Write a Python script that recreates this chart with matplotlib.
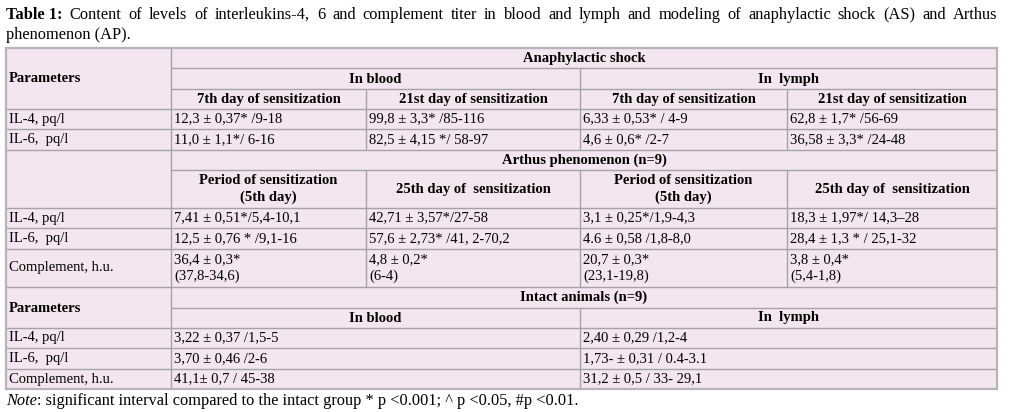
import matplotlib.pyplot as plt

# Table content
title_line1 = "Content of levels of interleukins-4, 6 and complement titer in blood and lymph and modeling of anaphylactic shock (AS) and Arthus"
title_line2 = "phenomenon (AP)."
note_text = ": significant interval compared to the intact group * p <0.001; ^ p <0.05, #p <0.01."

as_title = "Anaphylactic shock"
ap_title = "Arthus phenomenon (n=9)"
intact_title = "Intact animals (n=9)"
media = ["In blood", "In  lymph"]
as_periods = ["7th day of sensitization", "21st day of sensitization",
              "7th day of sensitization", "21st day of sensitization"]
ap_periods = ["Period of sensitization\n(5th day)", "25th day of  sensitization",
              "Period of sensitization\n(5th day)", "25th day of  sensitization"]

as_params = ["IL-4, pq/l", "IL-6,  pq/l"]
as_values = [
    ["12,3 ± 0,37* /9-18", "99,8 ± 3,3* /85-116", "6,33 ± 0,53* / 4-9", "62,8 ± 1,7* /56-69"],
    ["11,0 ± 1,1*/ 6-16", "82,5 ± 4,15 */ 58-97", "4,6 ± 0,6* /2-7", "36,58 ± 3,3* /24-48"],
]
ap_params = ["IL-4, pq/l", "IL-6,  pq/l", "Complement, h.u."]
ap_values = [
    ["7,41 ± 0,51*/5,4-10,1", "42,71 ± 3,57*/27-58", "3,1 ± 0,25*/1,9-4,3", "18,3 ± 1,97*/ 14,3–28"],
    ["12,5 ± 0,76 * /9,1-16", "57,6 ± 2,73* /41, 2-70,2", "4.6 ± 0,58 /1,8-8,0", "28,4 ± 1,3 * / 25,1-32"],
    ["36,4 ± 0,3*\n(37,8-34,6)", "4,8 ± 0,2*\n(6-4)", "20,7 ± 0,3*\n(23,1-19,8)", "3,8 ± 0,4*\n(5,4-1,8)"],
]
intact_params = ["IL-4, pq/l", "IL-6,  pq/l", "Complement, h.u."]
intact_values = [
    ["3,22 ± 0,37 /1,5-5", "2,40 ± 0,29 /1,2-4"],
    ["3,70 ± 0,46 /2-6", "1,73- ± 0,31 / 0.4-3.1"],
    ["41,1± 0,7 / 45-38", "31,2 ± 0,5 / 33- 29,1"],
]

# Layout in pixels
W, H = 1015, 412
L, R = 6, 997
cols = [L, 171, 366, 580, 787, R]
FONT = "Liberation Serif"
FS = 10.5
TFS = 11.8
BG = "#f3e6ee"
LC = "#a3a3a8"

fig = plt.figure(figsize=(W / 100, H / 100), dpi=100)
ax = fig.add_axes([0, 0, 1, 1])
ax.set_xlim(0, W)
ax.set_ylim(H, 0)
ax.axis("off")

ax.add_patch(plt.Rectangle((L, 48), R - L, 389 - 48, facecolor=BG, edgecolor="none", zorder=0))


def hline(y, x0=L, x1=R):
    ax.plot([x0, x1], [y, y], color=LC, lw=1, solid_capstyle="butt", zorder=1)


def vline(x, y0, y1):
    ax.plot([x, x], [y0, y1], color=LC, lw=1, solid_capstyle="butt", zorder=1)


def txt(x, y, s, bold=False, ha="left", **kw):
    ax.text(x, y, s, fontsize=FS, family=FONT, ha=ha, va="center",
            fontweight="bold" if bold else "normal", linespacing=1.3, **kw)


# outer frame
ax.add_patch(plt.Rectangle((L, 48), R - L, 389 - 48, facecolor="none", edgecolor="#b4b4bc", lw=1.6, zorder=2))

# ---- Anaphylactic shock section
hline(68, 171)
hline(89, 171)
hline(109)
vline(171, 48, 150)
vline(580, 68, 150)
for x in (366, 787):
    vline(x, 89, 150)
txt(9, 78, "Parameters", bold=True)
txt((171 + R) / 2, 58, as_title, bold=True, ha="center")
txt((171 + 580) / 2, 79, media[0], bold=True, ha="center")
txt((580 + R) / 2, 79, media[1], bold=True, ha="center")
for i, p in enumerate(as_periods):
    txt((cols[i + 1] + cols[i + 2]) / 2, 99, p, bold=True, ha="center")
as_rows = [109, 129, 150]
for r, (p, vals) in enumerate(zip(as_params, as_values)):
    yc = (as_rows[r] + as_rows[r + 1]) / 2
    txt(9, yc, p)
    for i, v in enumerate(vals):
        txt(cols[i + 1] + 3, yc, v)
    hline(as_rows[r + 1])

# ---- Arthus phenomenon section
hline(170, 171)
vline(171, 150, 287)
for x in (366, 580, 787):
    vline(x, 170, 287)
txt((171 + R) / 2, 160, ap_title, bold=True, ha="center")
for i, p in enumerate(ap_periods):
    txt((cols[i + 1] + cols[i + 2]) / 2, 189, p, bold=True, ha="center")
hline(208)
ap_rows = [208, 228, 249, 287]
for r, (p, vals) in enumerate(zip(ap_params, ap_values)):
    yc = (ap_rows[r] + ap_rows[r + 1]) / 2
    txt(9, yc, p)
    for i, v in enumerate(vals):
        txt(cols[i + 1] + 3, yc, v)
    hline(ap_rows[r + 1])

# ---- Intact animals section
hline(308, 171)
vline(171, 287, 389)
vline(580, 308, 389)
txt(9, 308, "Parameters", bold=True)
txt((171 + R) / 2, 297, intact_title, bold=True, ha="center")
txt((171 + 580) / 2, 318, media[0], bold=True, ha="center")
txt((580 + R) / 2, 318, media[1], bold=True, ha="center")
hline(328)
in_rows = [328, 348, 369, 389]
in_cols = [171, 580]
for r, (p, vals) in enumerate(zip(intact_params, intact_values)):
    yc = (in_rows[r] + in_rows[r + 1]) / 2
    txt(9, yc, p)
    for i, v in enumerate(vals):
        txt(in_cols[i] + 3, yc, v)
    if r < 2:
        hline(in_rows[r + 1])

# ---- Title (justified first line) and note
fig.canvas.draw()
renderer = fig.canvas.get_renderer()


def width_px(t):
    return t.get_window_extent(renderer).width


words = title_line1.split(" ")
objs = [ax.text(0, 15, "Table 1:", fontsize=TFS, family=FONT, fontweight="bold", va="center")]
objs += [ax.text(0, 15, w, fontsize=TFS, family=FONT, va="center") for w in words]
widths = [width_px(o) for o in objs]
gap = (R - L - sum(widths)) / (len(objs) - 1)
x = L
for o, w in zip(objs, widths):
    o.set_x(x)
    x += w + gap
ax.text(L, 35, title_line2, fontsize=TFS, family=FONT, va="center")

n1 = ax.text(L, 401, "Note", fontsize=TFS, family=FONT, style="italic", va="center")
fig.canvas.draw()
nw = width_px(n1)
ax.text(L + nw, 401, note_text, fontsize=TFS, family=FONT, va="center")

fig.savefig("out.png", dpi=100)
